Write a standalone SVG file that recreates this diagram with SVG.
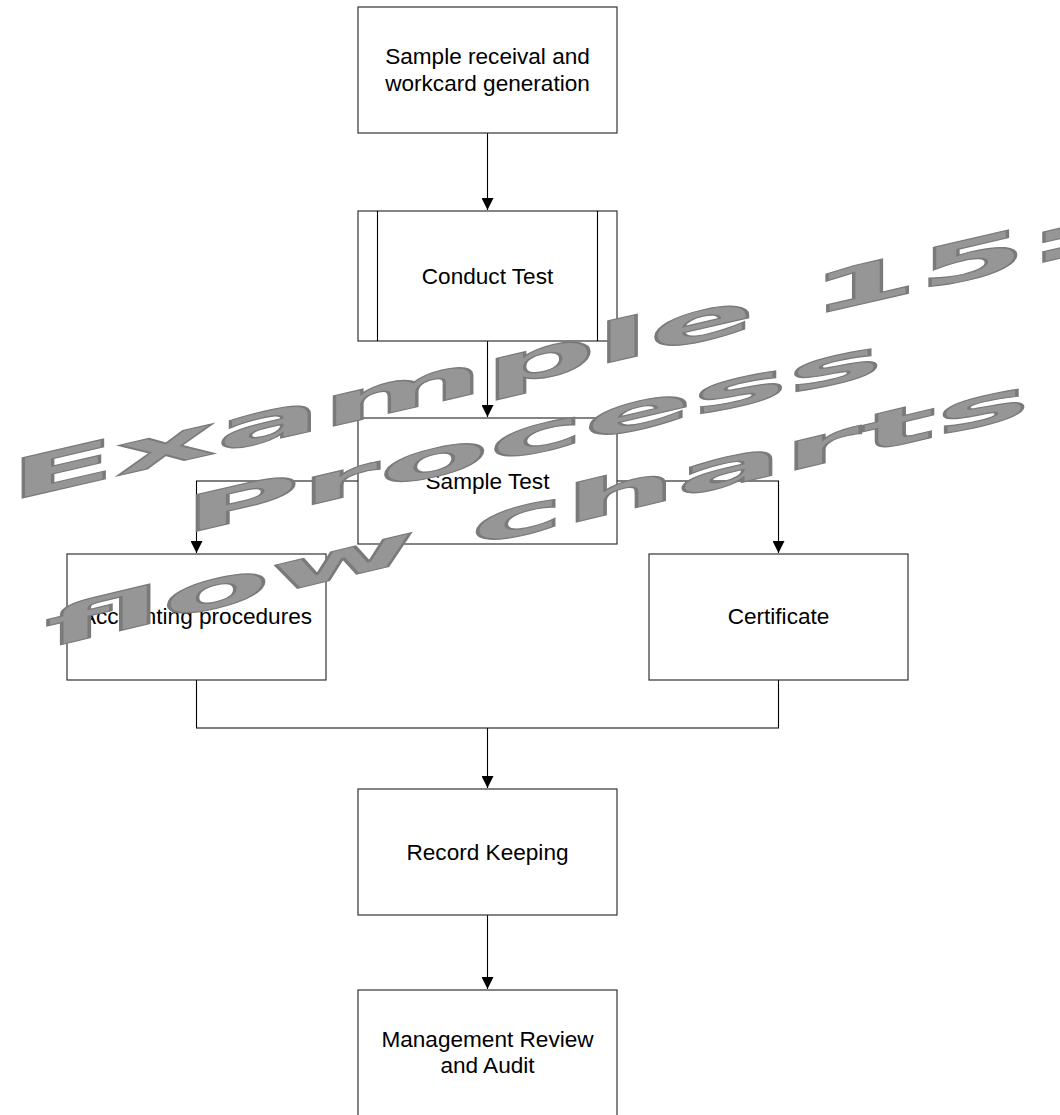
<svg xmlns="http://www.w3.org/2000/svg" width="1060" height="1115" viewBox="0 0 1060 1115">
<style>
  .box { fill: #ffffff; stroke: #333333; stroke-width: 1.2; }
  .lbl { font-family: "Liberation Sans", Arial, sans-serif; font-size: 22.6px; fill: #000000; text-anchor: middle; }
  .conn { fill: none; stroke: #000000; stroke-width: 1.1; }
  .wm { font-family: "DejaVu Sans", "Liberation Sans", sans-serif; font-weight: bold; fill: #969696; stroke: #7a7a7a; stroke-width: 1.2; }
</style>
<defs>
  <marker id="arrow" markerUnits="userSpaceOnUse" markerWidth="12" markerHeight="12" refX="12" refY="6" orient="auto">
    <path d="M0,0 L12,6 L0,12 z" fill="#000000"/>
  </marker>
</defs>
<rect width="1060" height="1115" fill="#ffffff"/>

<g id="connectors">
  <path class="conn" d="M487.5,133 V210" marker-end="url(#arrow)"/>
  <path class="conn" d="M487.5,341 V417" marker-end="url(#arrow)"/>
  <path class="conn" d="M358,481 H196.5 V553" marker-end="url(#arrow)"/>
  <path class="conn" d="M617,481 H778.5 V553" marker-end="url(#arrow)"/>
  <path class="conn" d="M196.5,680 V728 H778.5 V680"/>
  <path class="conn" d="M487.5,728 V788" marker-end="url(#arrow)"/>
  <path class="conn" d="M487.5,915 V989" marker-end="url(#arrow)"/>
</g>

<g id="node-receival">
  <rect class="box" x="358" y="7" width="259" height="126"/>
  <text class="lbl" x="487.5" y="64">Sample receival and</text>
  <text class="lbl" x="487.5" y="91">workcard generation</text>
</g>
<g id="node-conduct">
  <rect class="box" x="358" y="211" width="259" height="130"/>
  <line x1="377.5" y1="211" x2="377.5" y2="341" stroke="#000" stroke-width="1.1"/>
  <line x1="597.5" y1="211" x2="597.5" y2="341" stroke="#000" stroke-width="1.1"/>
  <text class="lbl" x="487.5" y="284">Conduct Test</text>
</g>
<g id="node-sample">
  <rect class="box" x="358" y="418" width="259" height="126"/>
  <text class="lbl" x="487.5" y="489">Sample Test</text>
</g>
<g id="node-accounting">
  <rect class="box" x="67" y="554" width="259" height="126"/>
  <text class="lbl" x="196.5" y="624">Accounting procedures</text>
</g>
<g id="node-certificate">
  <rect class="box" x="649" y="554" width="259" height="126"/>
  <text class="lbl" x="778.5" y="624">Certificate</text>
</g>
<g id="node-record">
  <rect class="box" x="358" y="789" width="259" height="126"/>
  <text class="lbl" x="487.5" y="860">Record Keeping</text>
</g>
<g id="node-management">
  <rect class="box" x="358" y="990" width="259" height="130"/>
  <text class="lbl" x="487.5" y="1047">Management Review</text>
  <text class="lbl" x="487.5" y="1073">and Audit</text>
</g>

<g id="watermark">
  <g transform="translate(13,500) skewY(-13)">
    <text class="wm" x="-4" y="0" font-size="55" textLength="1080" lengthAdjust="spacingAndGlyphs">Example 15:</text>
  </g>
  <g transform="translate(197,531) skewY(-13)">
    <text class="wm" x="-14" y="0" font-size="50" textLength="700" lengthAdjust="spacingAndGlyphs">Process</text>
  </g>
  <g transform="translate(47,648) skewY(-13.4)">
    <text class="wm" x="-2" y="0" font-size="52" textLength="985" lengthAdjust="spacingAndGlyphs">flow charts</text>
  </g>
</g>
</svg>
